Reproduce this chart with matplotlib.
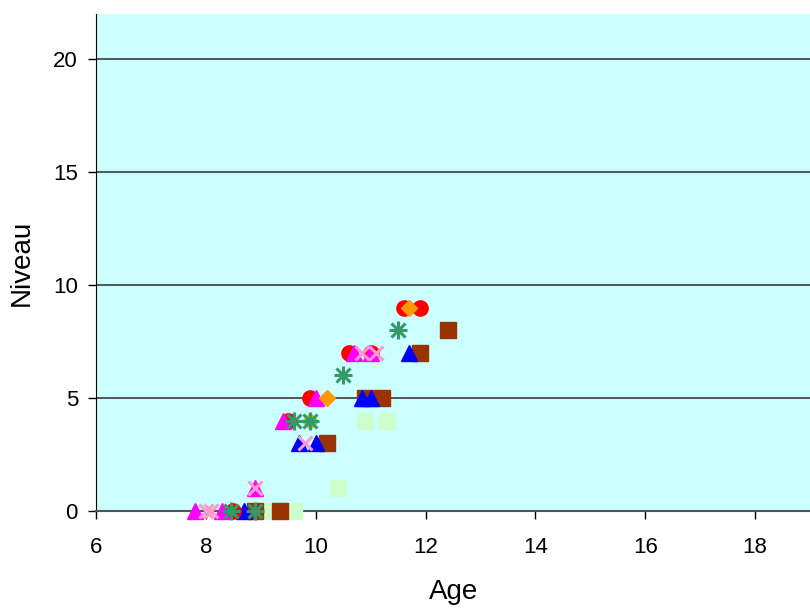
import matplotlib
matplotlib.use('Agg')
import matplotlib.pyplot as plt

plt.rcParams['font.family'] = ['Liberation Sans', 'DejaVu Sans']

# points par type de marqueur (age, niveau)
red_age = [8.5, 9.5, 9.9, 10.6, 11.0, 11.6, 11.9]
red_niv = [0, 4, 5, 7, 7, 9, 9]
mag_age = [7.8, 8.3, 8.9, 9.4, 10.0, 10.7, 11.0]
mag_niv = [0, 0, 1, 4, 5, 7, 7]
ora_age = [9.9, 10.2, 11.7]
ora_niv = [4, 5, 9]
blu_age = [8.7, 9.7, 10.0, 10.85, 11.0, 11.7]
blu_niv = [0, 3, 3, 5, 5, 7]
bro_age = [8.9, 9.35, 10.2, 10.9, 11.2, 11.9, 12.4]
bro_niv = [0, 0, 3, 5, 5, 7, 8]
grn_age = [8.45, 8.9, 9.6, 9.9, 10.5, 11.5]
grn_niv = [0, 0, 4, 4, 6, 8]
pnk_age = [8.0, 8.1, 8.9, 9.8, 10.85, 11.1]
pnk_niv = [0, 0, 1, 3, 7, 7]
lgr_age = [9.2, 9.6, 10.4, 10.9, 11.3]
lgr_niv = [0, 0, 1, 4, 4]

xticks = [6, 8, 10, 12, 14, 16, 18]
yticks = [0, 5, 10, 15, 20]

fig = plt.figure(figsize=(8.1, 6.08), dpi=100)
ax = fig.add_axes([96/810, 97/608, 714/810, 497/608])
ax.set_facecolor('#CCFFFF')

for y in yticks[1:]:
    ax.axhline(y, color='#3a3a3a', lw=1.2, zorder=1)

ms = 11
ax.plot(lgr_age, lgr_niv, 's', color='#CCFFCC', ms=ms, zorder=3, clip_on=False)
ax.plot(bro_age, bro_niv, 's', color='#993300', ms=ms, zorder=3, clip_on=False)
ax.plot(blu_age, blu_niv, '^', color='#0000FF', ms=ms+1, zorder=4, clip_on=False)
ax.plot(red_age, red_niv, 'o', color='#FF0000', ms=ms, zorder=4, clip_on=False)
ax.plot(mag_age, mag_niv, '^', color='#FF00FF', ms=ms+1, zorder=5, clip_on=False)
ax.plot(ora_age, ora_niv, 'D', color='#FF9900', ms=ms-3, zorder=5, clip_on=False)
ax.plot(pnk_age, pnk_niv, 'x', color='#FF99CC', ms=ms-1, mew=2.2, zorder=6, clip_on=False)
ax.plot(grn_age, grn_niv, '+', color='#339966', ms=ms+2, mew=2.2, zorder=6, clip_on=False)
ax.plot(grn_age, grn_niv, 'x', color='#339966', ms=ms-1, mew=2.2, zorder=6, clip_on=False)

ax.set_xlim(6, 19)
ax.set_ylim(0, 22)
ax.set_xticks(xticks)
ax.set_yticks(yticks)
ax.tick_params(labelsize=16, length=6, width=1, color='black', direction='out')
ax.tick_params(axis='x', pad=13)
ax.tick_params(axis='y', pad=7)

for s in ['top', 'right']:
    ax.spines[s].set_visible(False)
ax.spines['left'].set_color('black')
ax.spines['bottom'].set_color('#555555')
ax.spines['bottom'].set_linewidth(1.5)

ax.set_xlabel('Age', fontsize=20, va='center')
ax.xaxis.set_label_coords((454 - 96) / 714, (511 - 592) / 497)
ax.set_ylabel('Niveau', fontsize=20, va='center')
ax.yaxis.set_label_coords((22 - 96) / 714, 0.5)

fig.savefig('out.png', dpi=100)
